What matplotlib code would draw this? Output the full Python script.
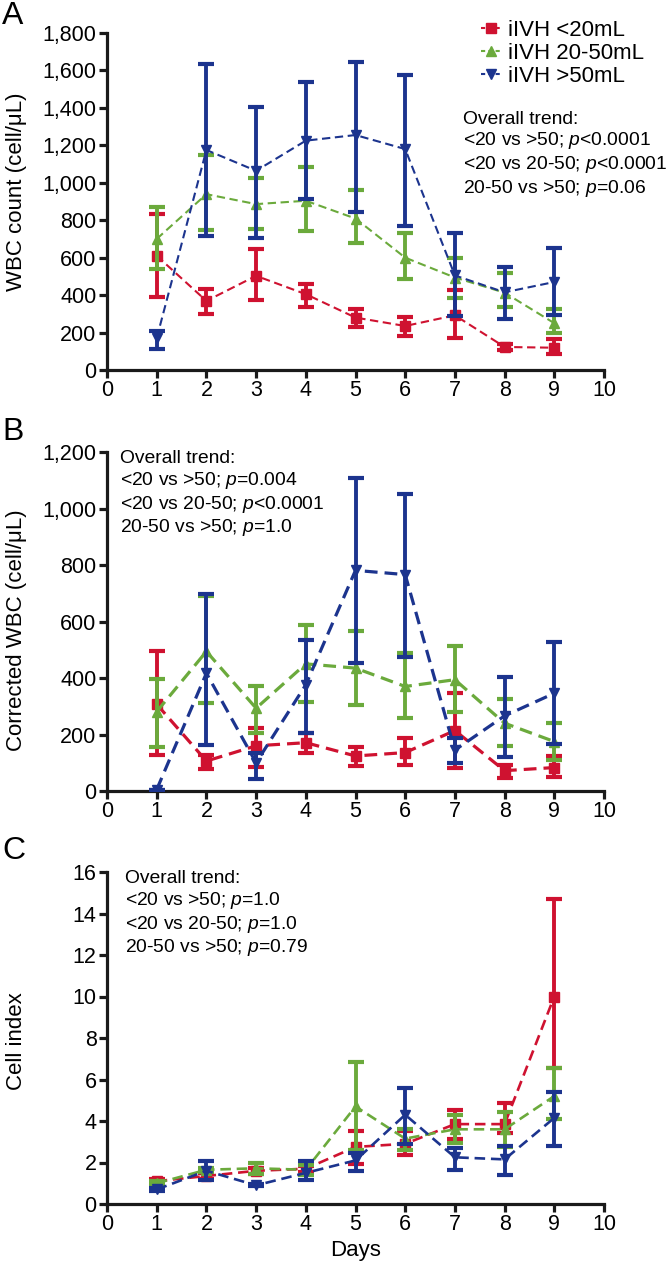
import matplotlib
matplotlib.use("Agg")
import matplotlib.pyplot as plt
from matplotlib.lines import Line2D
from matplotlib.ticker import FuncFormatter, MultipleLocator

plt.rcParams["font.family"] = ["Liberation Sans", "DejaVu Sans"]
plt.rcParams["mathtext.fontset"] = "custom"
plt.rcParams["mathtext.rm"] = "Liberation Sans"
plt.rcParams["mathtext.it"] = "Liberation Sans:italic"

# %% data
days = [1, 2, 3, 4, 5, 6, 7, 8, 9]
labels = ["iIVH <20mL", "iIVH 20-50mL", "iIVH >50mL"]

# A: WBC count (cell/uL)
wbc_lt20 = [610, 369, 503, 405, 280, 235, 292, 123, 119]
wbc_lt20_hi = [832, 435, 645, 458, 328, 283, 426, 137, 168]
wbc_lt20_lo = [392, 298, 373, 339, 232, 182, 173, 107, 84]
wbc_mid = [700, 939, 886, 904, 809, 600, 494, 413, 250]
wbc_mid_hi = [868, 1150, 1025, 1086, 961, 734, 599, 520, 324]
wbc_mid_lo = [538, 749, 752, 745, 677, 485, 385, 339, 200]
wbc_gt50 = [170, 1175, 1064, 1225, 1255, 1180, 505, 415, 470]
wbc_gt50_hi = [210, 1634, 1403, 1536, 1647, 1576, 730, 551, 649]
wbc_gt50_lo = [110, 716, 704, 913, 845, 770, 289, 271, 292]

# B: corrected WBC (cell/uL)
cwbc_lt20 = [307, 106, 160, 171, 124, 136, 214, 72, 83]
cwbc_lt20_hi = [497, 128, 222, 207, 155, 187, 346, 92, 124]
cwbc_lt20_lo = [128, 77, 86, 134, 89, 92, 80, 47, 48]
cwbc_mid = [281, 494, 293, 450, 435, 370, 394, 240, 175]
cwbc_mid_hi = [396, 690, 372, 589, 567, 488, 514, 325, 240]
cwbc_mid_lo = [155, 312, 207, 314, 303, 258, 278, 160, 108]
cwbc_gt50 = [5, 417, 100, 376, 781, 766, 145, 266, 346]
cwbc_gt50_hi = [5, 699, 134, 533, 1109, 1052, 187, 403, 526]
cwbc_gt50_lo = [5, 163, 41, 207, 453, 474, 98, 119, 166]

# C: cell index
ci_lt20 = [1.1, 1.35, 1.6, 1.7, 2.75, 2.9, 3.85, 3.85, 10.0]
ci_lt20_hi = [1.2, 1.5, 1.75, 1.85, 3.5, 3.5, 4.55, 4.85, 14.7]
ci_lt20_lo = [1.0, 1.2, 1.45, 1.55, 1.95, 2.35, 3.15, 3.4, 6.55]
ci_mid = [1.0, 1.65, 1.72, 1.65, 4.7, 3.15, 3.6, 3.6, 5.2]
ci_mid_hi = [1.1, 1.75, 2.0, 1.9, 6.85, 3.6, 4.3, 4.45, 6.55]
ci_mid_lo = [0.9, 1.55, 1.45, 1.4, 2.6, 2.6, 2.95, 2.75, 4.1]
ci_gt50 = [0.7, 1.6, 0.9, 1.5, 2.1, 4.3, 2.25, 2.15, 4.15]
ci_gt50_hi = [0.75, 2.05, 0.95, 2.05, 2.45, 5.6, 2.7, 2.8, 5.4]
ci_gt50_lo = [0.65, 1.15, 0.85, 1.15, 1.6, 2.9, 1.65, 1.4, 2.8]

colors = ["#CF1230", "#6BAA3C", "#1C348E"]
markers = ["s", "^", "v"]

trend_a = ("Overall trend:\n<20 vs >50; $p$<0.0001\n"
           "<20 vs 20-50; $p$<0.0001\n20-50 vs >50; $p$=0.06")
trend_b = ("Overall trend:\n<20 vs >50; $p$=0.004\n"
           "<20 vs 20-50; $p$<0.0001\n20-50 vs >50; $p$=1.0")
trend_c = ("Overall trend:\n<20 vs >50; $p$=1.0\n"
           "<20 vs 20-50; $p$=1.0\n20-50 vs >50; $p$=0.79")

# %% figure
W, H = 666, 1265
fig = plt.figure(figsize=(W / 100, H / 100), dpi=100)


def px_axes(top, bottom, left=107, right=604):
    return fig.add_axes([left / W, 1 - bottom / H, (right - left) / W, (bottom - top) / H])


def panel(ax, series, ymax, ystep, ylabel, lw, comma=True):
    for i, (m, hi, lo) in enumerate(series):
        err = [[a - b for a, b in zip(m, lo)], [b - a for a, b in zip(m, hi)]]
        ax.errorbar(days, m, yerr=err, fmt="none", ecolor=colors[i],
                    elinewidth=2.8, capsize=5.5, capthick=3, zorder=3 + i)
        ax.plot(days, m, ls="--", dashes=(4, 2.2), lw=lw, color=colors[i],
                marker=markers[i], ms=7, zorder=3 + i)
    ax.set_xlim(0, 10)
    ax.set_ylim(0, ymax)
    ax.xaxis.set_major_locator(MultipleLocator(1))
    ax.yaxis.set_major_locator(MultipleLocator(ystep))
    if comma:
        ax.yaxis.set_major_formatter(FuncFormatter(lambda v, p: f"{int(v):,}"))
    for s in ["top", "right"]:
        ax.spines[s].set_visible(False)
    for s in ["left", "bottom"]:
        ax.spines[s].set_linewidth(2.3)
        ax.spines[s].set_color("#1a1a1a")
    ax.tick_params(width=2.3, length=5.5, labelsize=15.5, pad=2, color="#1a1a1a")
    ax.set_ylabel(ylabel, fontsize=16)


axA = px_axes(33, 370)
panel(axA, [(wbc_lt20, wbc_lt20_hi, wbc_lt20_lo),
            (wbc_mid, wbc_mid_hi, wbc_mid_lo),
            (wbc_gt50, wbc_gt50_hi, wbc_gt50_lo)], 1800, 200,
      "WBC count (cell/μL)", 1.5)
axA.yaxis.set_label_coords(-0.16, 0.53)
axA.text(0.716, 0.77, trend_a, transform=axA.transAxes, fontsize=13.9,
         va="top", ha="left", linespacing=1.18)
handles = [Line2D([], [], color=colors[i], marker=markers[i], ms=7, ls="--",
                  dashes=(2, 1.5), lw=1.5) for i in range(3)]
axA.legend(handles, labels, loc="upper left", bbox_to_anchor=(0.735, 1.065),
           frameon=False, fontsize=16, handlelength=0.9, handletextpad=0.3,
           labelspacing=0.08, borderaxespad=0)

axB = px_axes(452, 791)
panel(axB, [(cwbc_lt20, cwbc_lt20_hi, cwbc_lt20_lo),
            (cwbc_mid, cwbc_mid_hi, cwbc_mid_lo),
            (cwbc_gt50, cwbc_gt50_hi, cwbc_gt50_lo)], 1200, 200,
      "Corrected WBC (cell/μL)", 2.3)
axB.yaxis.set_label_coords(-0.16, 0.475)
axB.text(0.027, 1.005, trend_b, transform=axB.transAxes, fontsize=13.9,
         va="top", ha="left", linespacing=1.18)

axC = px_axes(872, 1204)
panel(axC, [(ci_lt20, ci_lt20_hi, ci_lt20_lo),
            (ci_mid, ci_mid_hi, ci_mid_lo),
            (ci_gt50, ci_gt50_hi, ci_gt50_lo)], 16, 2,
      "Cell index", 1.9, comma=False)
axC.yaxis.set_label_coords(-0.16, 0.49)
axC.set_xlabel("Days", fontsize=16, labelpad=3)
axC.text(0.036, 1.005, trend_c, transform=axC.transAxes, fontsize=13.9,
         va="top", ha="left", linespacing=1.18)

for letter, y in [("A", 16), ("B", 432), ("C", 851)]:
    fig.text(2 / W, 1 - y / H, letter, fontsize=23, ha="left", va="center")

fig.savefig("out.png", dpi=100)
